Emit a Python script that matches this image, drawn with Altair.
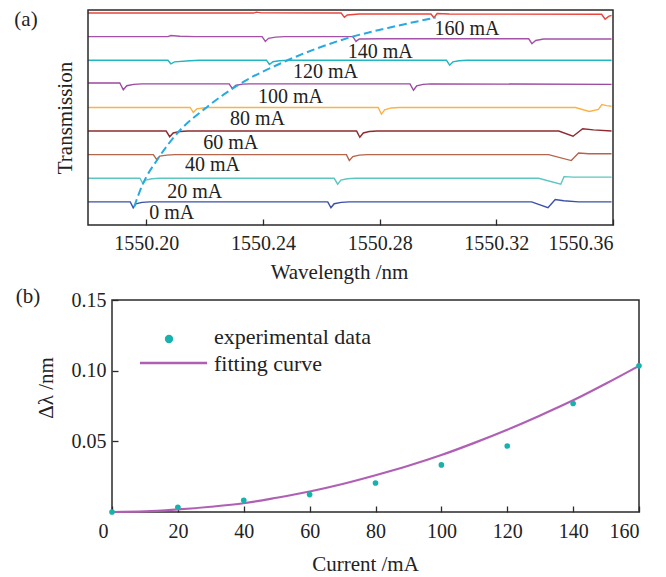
import altair as alt
import pandas as pd

FONT = "Liberation Serif"
TXT = "#222222"

# ---------------- panel (a): transmission spectra ----------------
trace_names = ["0 mA", "20 mA", "40 mA", "60 mA", "80 mA", "100 mA", "120 mA", "140 mA", "160 mA"]
trace_colors = ["#3a4fa8", "#5cc6c0", "#b5654a", "#8e2b30", "#fbb248", "#9c48a0", "#22b5c2", "#a352a8", "#e8453c"]
trace_levels = [0, 1, 2, 3, 4, 5, 6, 7, 8]

lam_0 = [1550.1800, 1550.1945, 1550.1955, 1550.1964, 1550.1985, 1550.2012, 1550.2622, 1550.2633, 1550.2644,
         1550.2668, 1550.2696, 1550.3321, 1550.3377, 1550.3402, 1550.3431, 1550.3482, 1550.3595]
dev_0 = [0, 0, -0.25, -0.08, -0.02, 0, 0, -0.25, -0.08, -0.02, 0, 0, -0.25, 0.10, 0.05, 0, 0]

lam_1 = [1550.1800, 1550.1978, 1550.1988, 1550.1998, 1550.2019, 1550.2046, 1550.2644, 1550.2656, 1550.2667,
         1550.2689, 1550.2716, 1550.3345, 1550.3421, 1550.3432, 1550.3465, 1550.3595]
dev_1 = [0, 0, -0.22, -0.08, -0.02, 0, 0, -0.25, -0.08, -0.02, 0, 0, -0.25, 0.07, 0.05, 0.05]

lam_2 = [1550.1800, 1550.2024, 1550.2035, 1550.2046, 1550.2070, 1550.2097, 1550.2686, 1550.2696, 1550.2708,
         1550.2730, 1550.2757, 1550.3379, 1550.3457, 1550.3482, 1550.3516, 1550.3595]
dev_2 = [0, 0, -0.20, -0.06, -0.02, 0, 0, -0.25, -0.08, -0.02, 0, 0, -0.25, 0.07, 0.04, 0.04]

lam_3 = [1550.1800, 1550.2068, 1550.2080, 1550.2092, 1550.2115, 1550.2142, 1550.2721, 1550.2732, 1550.2744,
         1550.2764, 1550.2791, 1550.3414, 1550.3463, 1550.3496, 1550.3533, 1550.3595]
dev_3 = [0, 0, -0.24, -0.08, -0.02, 0, 0, -0.26, -0.08, -0.02, 0, 0, -0.22, 0.10, 0.05, 0]

lam_4 = [1550.1800, 1550.2150, 1550.2161, 1550.2173, 1550.2193, 1550.2217, 1550.2795, 1550.2806, 1550.2817,
         1550.2839, 1550.2867, 1550.3471, 1550.3519, 1550.3550, 1550.3562, 1550.3578, 1550.3595]
dev_4 = [0, 0, -0.21, -0.06, -0.02, 0, 0, -0.28, -0.10, -0.02, 0, 0, -0.17, -0.08, 0.12, 0.08, 0.05]

lam_5 = [1550.1800, 1550.1909, 1550.1921, 1550.1933, 1550.1957, 1550.1985, 1550.2284, 1550.2295, 1550.2306,
         1550.2330, 1550.2354, 1550.2904, 1550.2916, 1550.2927, 1550.2949, 1550.2976, 1550.3595]
dev_5 = [0.04, 0.04, -0.25, -0.08, -0.02, 0, 0, -0.20, -0.06, -0.01, 0, 0, -0.27, -0.08, -0.02, 0, -0.02]

lam_6 = [1550.1800, 1550.2074, 1550.2084, 1550.2097, 1550.2149, 1550.2183, 1550.2412, 1550.2422, 1550.2434,
         1550.2456, 1550.2491, 1550.3029, 1550.3040, 1550.3051, 1550.3072, 1550.3099, 1550.3595]
dev_6 = [0, 0, -0.15, -0.07, -0.02, 0, 0, -0.18, -0.06, -0.02, 0, 0, -0.21, -0.07, -0.02, 0, 0]

lam_7 = [1550.1800, 1550.2074, 1550.2084, 1550.2115, 1550.2166, 1550.2397, 1550.2408, 1550.2419, 1550.2443,
         1550.2474, 1550.2708, 1550.2719, 1550.2730, 1550.2798, 1550.3311, 1550.3322, 1550.3335, 1550.3362,
         1550.3595]
dev_7 = [0, 0, 0.05, 0.02, 0, 0, -0.20, -0.07, -0.02, 0, 0, -0.20, -0.10, -0.09, -0.09, -0.30, -0.16, -0.10,
         -0.10]

lam_8 = [1550.1800, 1550.2368, 1550.2377, 1550.2395, 1550.2668, 1550.2679, 1550.2689, 1550.2730, 1550.2976,
         1550.2986, 1550.2997, 1550.3038, 1550.3561, 1550.3573, 1550.3585, 1550.3595]
dev_8 = [0, 0, 0.04, 0.01, 0, -0.18, -0.08, -0.04, -0.04, -0.20, -0.02, -0.04, -0.05, -0.26, -0.14, -0.10]

trace_lams = [lam_0, lam_1, lam_2, lam_3, lam_4, lam_5, lam_6, lam_7, lam_8]
trace_devs = [dev_0, dev_1, dev_2, dev_3, dev_4, dev_5, dev_6, dev_7, dev_8]

# dashed guide through the shifting resonance
dash_lam = [1550.1958, 1550.1987, 1550.2040, 1550.2109, 1550.2200, 1550.2320, 1550.2468, 1550.2696,
            1550.2832, 1550.2992]
dash_y = [-0.21, 0.73, 1.83, 2.95, 3.94, 4.99, 5.91, 6.96, 7.38, 7.81]

# current labels
label_lam = [1550.2087, 1550.2166, 1550.2227, 1550.2289, 1550.2381, 1550.2494, 1550.2614, 1550.2802, 1550.3099]
label_y = [-0.49, 0.42, 1.56, 2.50, 3.51, 4.43, 5.49, 6.37, 7.31]

wl_ticks = [1550.20, 1550.24, 1550.28, 1550.32, 1550.36]

# ---------------- panel (b): shift vs current ----------------
current = [0, 20, 40, 60, 80, 100, 120, 140, 160]
shift = [0.0, 0.0033, 0.0083, 0.0123, 0.0205, 0.0333, 0.0467, 0.0768, 0.1034]

fit_current = [0, 10, 20, 30, 40, 50, 60, 70, 80, 90, 100, 110, 120, 130, 140, 150, 160]
fit_shift = [0.0, 0.0004, 0.0018, 0.0037, 0.0062, 0.0101, 0.0145, 0.0198, 0.0260, 0.0327, 0.0403, 0.0489,
             0.0582, 0.0683, 0.0790, 0.0909, 0.1034]

cur_ticks = [0, 20, 40, 60, 80, 100, 120, 140, 160]
shift_ticks = [0.05, 0.10, 0.15]

# ---------------- build tables ----------------
rows = []
for name, lvl, lams, devs in zip(trace_names, trace_levels, trace_lams, trace_devs):
    for i, (l, d) in enumerate(zip(lams, devs)):
        rows.append({"trace": name, "lam": l, "y": lvl + d, "i": i})
spec_df = pd.DataFrame(rows)
dash_df = pd.DataFrame({"lam": dash_lam, "y": dash_y})
lab_df = pd.DataFrame({"lam": label_lam, "y": label_y, "text": trace_names})

WA, HA = 525, 215
x_scale_a = alt.Scale(domain=[1550.18, 1550.36], nice=False, zero=False)
y_scale_a = alt.Scale(domain=[-0.98, 8.13], nice=False, zero=False)
x_axis_a = alt.Axis(values=wl_ticks, format=".2f", title="Wavelength /nm", grid=False, domain=False,
                    tickSize=6, offset=-6, labelPadding=8, titlePadding=8, titleX=251)
y_axis_a = alt.Axis(title="Transmission", labels=False, ticks=False, domain=False, grid=False,
                    titlePadding=13)

xa = alt.X("lam:Q", scale=x_scale_a, axis=x_axis_a)
ya = alt.Y("y:Q", scale=y_scale_a, axis=y_axis_a)

spectra = alt.Chart(spec_df).mark_line(strokeWidth=1.4).encode(
    x=xa, y=ya,
    color=alt.Color("trace:N", scale=alt.Scale(domain=trace_names, range=trace_colors), legend=None),
    order="i:Q",
)
dash = alt.Chart(dash_df).mark_line(color="#27a9e1", strokeWidth=2, strokeDash=[8, 4],
                                    interpolate="monotone").encode(x=xa, y=ya)
labels_a = alt.Chart(lab_df).mark_text(font=FONT, fontSize=20, color=TXT, baseline="middle",
                                       align="center").encode(x=xa, y=ya, text="text:N")
frame_a = alt.Chart(pd.DataFrame({"k": [0]})).mark_rect(fillOpacity=0, stroke="#2a2a2a", strokeWidth=1.5).encode(
    x=alt.value(0), x2=alt.value(WA), y=alt.value(0), y2=alt.value(HA))
tag_a = alt.Chart(pd.DataFrame({"t": ["(a)"]})).mark_text(font=FONT, fontSize=21, color=TXT).encode(
    text="t:N", x=alt.value(-62), y=alt.value(10))

panel_a = alt.layer(spectra, dash, labels_a, frame_a, tag_a).properties(width=WA, height=HA)

# panel (b)
WB, HB = 551, 212
pts_df = pd.DataFrame({"current": current, "shift": shift})
fit_df = pd.DataFrame({"current": fit_current, "shift": fit_shift})

x_scale_b = alt.Scale(domain=[0, 160], range=[24, 551], nice=False, zero=False)
y_scale_b = alt.Scale(domain=[0, 0.15], nice=False)
x_axis_b = alt.Axis(values=cur_ticks, format="d", title="Current /mA", grid=False, domain=False,
                    tickSize=6, offset=-6, labelPadding=9, titlePadding=12, titleX=277,
                    labelOffset={"condition": {"test": "datum.value === 0", "value": -14}, "value": 0})
y_axis_b = alt.Axis(values=shift_ticks, format=".2f", title=None, grid=False, domain=False,
                    tickSize=6, offset=-30, labelPadding=6)

xb = alt.X("current:Q", scale=x_scale_b, axis=x_axis_b)
yb = alt.Y("shift:Q", scale=y_scale_b, axis=y_axis_b)

fit_line = alt.Chart(fit_df).mark_line(color="#b060b4", strokeWidth=2.2, interpolate="monotone").encode(x=xb, y=yb)
points = alt.Chart(pts_df).mark_circle(color="#17b2ad", size=32, opacity=1).encode(x=xb, y=yb)
frame_b = alt.Chart(pd.DataFrame({"k": [0]})).mark_rect(fillOpacity=0, stroke="#2a2a2a", strokeWidth=1.5).encode(
    x=alt.value(24), x2=alt.value(WB), y=alt.value(0), y2=alt.value(HB))
tag_b = alt.Chart(pd.DataFrame({"t": ["(b)"]})).mark_text(font=FONT, fontSize=21, color=TXT).encode(
    text="t:N", x=alt.value(-60), y=alt.value(-3))
ytitle_b = alt.Chart(pd.DataFrame({"t": ["Δλ /nm"]})).mark_text(
    font=FONT, fontSize=21, color=TXT, angle=270, align="center", baseline="middle").encode(
    text="t:N", x=alt.value(-41), y=alt.value(88))

leg_dot = alt.Chart(pd.DataFrame({"k": [0]})).mark_circle(color="#17b2ad", size=70, opacity=1).encode(
    x=alt.value(81), y=alt.value(39))
leg_line = alt.Chart(pd.DataFrame({"k": [0]})).mark_rule(color="#b060b4", strokeWidth=2.5).encode(
    x=alt.value(52), x2=alt.value(119), y=alt.value(63))
leg_text = alt.Chart(pd.DataFrame({"t": ["experimental data", "fitting curve"], "yy": [37, 64]})).mark_text(
    font=FONT, fontSize=22, color=TXT, align="left", baseline="middle").encode(
    text="t:N", x=alt.value(126), y=alt.Y("yy:Q", scale=None))

panel_b = alt.layer(frame_b, fit_line, points, tag_b, ytitle_b, leg_dot, leg_line, leg_text).properties(
    width=WB, height=HB)

chart = alt.vconcat(panel_a, panel_b, spacing=2).properties(
    padding={"left": 5, "top": 0, "right": 5, "bottom": 0}, background="white"
).configure_view(stroke="transparent").configure_axis(
    labelFont=FONT, titleFont=FONT, labelFontSize=20, titleFontSize=21, labelColor=TXT, titleColor=TXT,
    tickColor="#2a2a2a", tickWidth=1.3, titleFontWeight="normal"
)

chart.save("out.html", embed_options={"renderer": "svg", "actions": False})
